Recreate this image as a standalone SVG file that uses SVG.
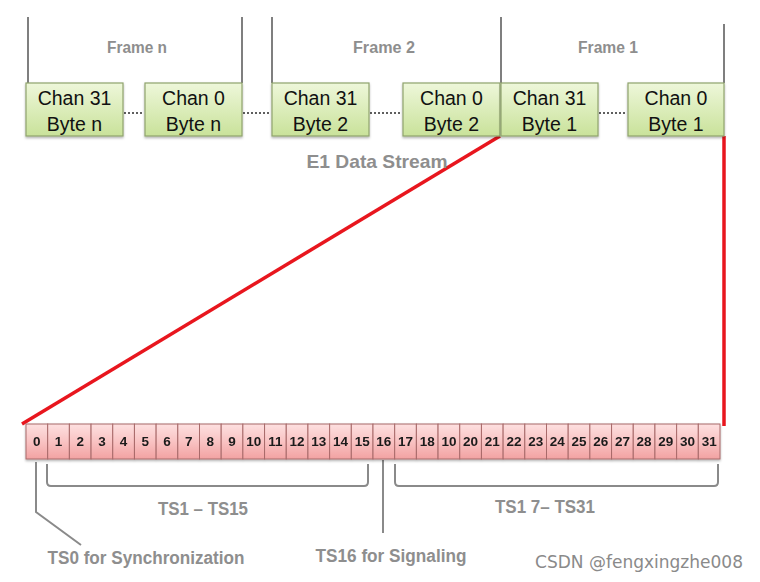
<svg xmlns="http://www.w3.org/2000/svg" width="760" height="582" viewBox="0 0 760 582">
<defs>
<linearGradient id="gGreen" x1="0" y1="0" x2="0" y2="1">
<stop offset="0" stop-color="#eef7da"/>
<stop offset="1" stop-color="#c9e29a"/>
</linearGradient>
<linearGradient id="gPink" x1="0" y1="0" x2="0" y2="1">
<stop offset="0" stop-color="#fde0e0"/>
<stop offset="0.5" stop-color="#f9c3c3"/>
<stop offset="1" stop-color="#f2a2a2"/>
</linearGradient>
<filter id="sh" x="-10%" y="-10%" width="130%" height="140%">
<feDropShadow dx="0" dy="1.5" stdDeviation="1.2" flood-color="#000" flood-opacity="0.3"/>
</filter>
</defs>
<style>
.box{fill:url(#gGreen);stroke:#8fa36d;stroke-width:1.2;filter:url(#sh)}
.cell{fill:url(#gPink);stroke:#a86a6a;stroke-width:1}
.bt{font-family:"Liberation Sans",Arial,sans-serif;font-size:19.5px;fill:#111;text-anchor:middle}
.ct{font-family:"Liberation Sans",Arial,sans-serif;font-size:13.5px;font-weight:bold;fill:#1a1a1a;text-anchor:middle}
.gl{font-family:"Liberation Sans",Arial,sans-serif;font-weight:bold;fill:#8e8e8e;text-anchor:middle}
.fl{stroke:#7f7f7f;stroke-width:2;fill:none}
.dot{stroke:#5f5f5f;stroke-width:2;stroke-dasharray:2 2;fill:none}
.red{stroke:#e8161e;stroke-width:3.5;fill:none}
.br{stroke:#8a8a8a;stroke-width:2;fill:none}
</style>
<rect width="760" height="582" fill="#ffffff"/>

<g id="connectors">
<path class="fl" d="M28,17V83 M242,17V83 M272,17V83 M501,17V83 M724,24V83"/>
<path class="dot" d="M124,113H144 M243,113H271 M370,113H402 M599,113H627"/>
<path class="br" d="M47,464V482Q47,486 51,486H364Q368,486 368,482V464"/>
<path class="br" d="M395,464V482Q395,486 399,486H714Q718,486 718,482V464"/>
<path class="br" d="M36,462V512L81,545"/>
<path class="br" d="M383,460V533"/>
<path class="red" d="M500,136L22,424"/>
<path class="red" d="M724,136V426"/>
</g>

<g id="labels">
<text class="gl" x="137" y="53" font-size="16" textLength="60" lengthAdjust="spacingAndGlyphs">Frame n</text>
<text class="gl" x="384" y="53" font-size="16" textLength="62" lengthAdjust="spacingAndGlyphs">Frame 2</text>
<text class="gl" x="608" y="53" font-size="16" textLength="60" lengthAdjust="spacingAndGlyphs">Frame 1</text>
<text class="gl" x="377" y="168" font-size="19" textLength="141" lengthAdjust="spacingAndGlyphs">E1 Data Stream</text>
<text class="gl" x="203" y="515" font-size="18" textLength="90" lengthAdjust="spacingAndGlyphs">TS1 – TS15</text>
<text class="gl" x="545" y="513" font-size="18" textLength="100" lengthAdjust="spacingAndGlyphs">TS1 7– TS31</text>
<text class="gl" x="146" y="564" font-size="18" textLength="197" lengthAdjust="spacingAndGlyphs">TS0 for Synchronization</text>
<text class="gl" x="391" y="562" font-size="18" textLength="151" lengthAdjust="spacingAndGlyphs">TS16 for Signaling</text>
<text x="639" y="568" font-family="'DejaVu Sans','Liberation Sans',sans-serif" font-size="17" fill="#8a8a8a" text-anchor="middle" textLength="208" lengthAdjust="spacingAndGlyphs">CSDN @fengxingzhe008</text>
</g>

<g id="frame-n-chan31"><rect class="box" x="26" y="83" width="97" height="53"/><text class="bt" x="74.5" y="105">Chan 31</text><text class="bt" x="74.5" y="131">Byte n</text></g>
<g id="frame-n-chan0"><rect class="box" x="145" y="83" width="97" height="53"/><text class="bt" x="193.5" y="105">Chan 0</text><text class="bt" x="193.5" y="131">Byte n</text></g>
<g id="frame-2-chan31"><rect class="box" x="272" y="83" width="97" height="53"/><text class="bt" x="320.5" y="105">Chan 31</text><text class="bt" x="320.5" y="131">Byte 2</text></g>
<g id="frame-2-chan0"><rect class="box" x="403" y="83" width="97" height="53"/><text class="bt" x="451.5" y="105">Chan 0</text><text class="bt" x="451.5" y="131">Byte 2</text></g>
<g id="frame-1-chan31"><rect class="box" x="501" y="83" width="97" height="53"/><text class="bt" x="549.5" y="105">Chan 31</text><text class="bt" x="549.5" y="131">Byte 1</text></g>
<g id="frame-1-chan0"><rect class="box" x="628" y="83" width="96" height="53"/><text class="bt" x="676" y="105">Chan 0</text><text class="bt" x="676" y="131">Byte 1</text></g>

<g id="timeslots" filter="url(#sh)">
<g id="ts0"><rect class="cell" x="26" y="424" width="21.69" height="35"/><text class="ct" x="36.84" y="446">0</text></g>
<g id="ts1"><rect class="cell" x="47.69" y="424" width="21.69" height="35"/><text class="ct" x="58.53" y="446">1</text></g>
<g id="ts2"><rect class="cell" x="69.38" y="424" width="21.69" height="35"/><text class="ct" x="80.22" y="446">2</text></g>
<g id="ts3"><rect class="cell" x="91.06" y="424" width="21.69" height="35"/><text class="ct" x="101.9" y="446">3</text></g>
<g id="ts4"><rect class="cell" x="112.75" y="424" width="21.69" height="35"/><text class="ct" x="123.59" y="446">4</text></g>
<g id="ts5"><rect class="cell" x="134.44" y="424" width="21.69" height="35"/><text class="ct" x="145.28" y="446">5</text></g>
<g id="ts6"><rect class="cell" x="156.13" y="424" width="21.69" height="35"/><text class="ct" x="166.97" y="446">6</text></g>
<g id="ts7"><rect class="cell" x="177.81" y="424" width="21.69" height="35"/><text class="ct" x="188.65" y="446">7</text></g>
<g id="ts8"><rect class="cell" x="199.5" y="424" width="21.69" height="35"/><text class="ct" x="210.34" y="446">8</text></g>
<g id="ts9"><rect class="cell" x="221.19" y="424" width="21.69" height="35"/><text class="ct" x="232.03" y="446">9</text></g>
<g id="ts10"><rect class="cell" x="242.88" y="424" width="21.69" height="35"/><text class="ct" x="253.72" y="446">10</text></g>
<g id="ts11"><rect class="cell" x="264.56" y="424" width="21.69" height="35"/><text class="ct" x="275.4" y="446">11</text></g>
<g id="ts12"><rect class="cell" x="286.25" y="424" width="21.69" height="35"/><text class="ct" x="297.09" y="446">12</text></g>
<g id="ts13"><rect class="cell" x="307.94" y="424" width="21.69" height="35"/><text class="ct" x="318.78" y="446">13</text></g>
<g id="ts14"><rect class="cell" x="329.63" y="424" width="21.69" height="35"/><text class="ct" x="340.47" y="446">14</text></g>
<g id="ts15"><rect class="cell" x="351.31" y="424" width="21.69" height="35"/><text class="ct" x="362.15" y="446">15</text></g>
<g id="ts16"><rect class="cell" x="373" y="424" width="21.69" height="35"/><text class="ct" x="383.84" y="446">16</text></g>
<g id="ts17"><rect class="cell" x="394.69" y="424" width="21.69" height="35"/><text class="ct" x="405.53" y="446">17</text></g>
<g id="ts18"><rect class="cell" x="416.38" y="424" width="21.69" height="35"/><text class="ct" x="427.22" y="446">18</text></g>
<g id="ts19"><rect class="cell" x="438.06" y="424" width="21.69" height="35"/><text class="ct" x="448.9" y="446">10</text></g>
<g id="ts20"><rect class="cell" x="459.75" y="424" width="21.69" height="35"/><text class="ct" x="470.59" y="446">20</text></g>
<g id="ts21"><rect class="cell" x="481.44" y="424" width="21.69" height="35"/><text class="ct" x="492.28" y="446">21</text></g>
<g id="ts22"><rect class="cell" x="503.13" y="424" width="21.69" height="35"/><text class="ct" x="513.97" y="446">22</text></g>
<g id="ts23"><rect class="cell" x="524.81" y="424" width="21.69" height="35"/><text class="ct" x="535.65" y="446">23</text></g>
<g id="ts24"><rect class="cell" x="546.5" y="424" width="21.69" height="35"/><text class="ct" x="557.34" y="446">24</text></g>
<g id="ts25"><rect class="cell" x="568.19" y="424" width="21.69" height="35"/><text class="ct" x="579.03" y="446">25</text></g>
<g id="ts26"><rect class="cell" x="589.88" y="424" width="21.69" height="35"/><text class="ct" x="600.72" y="446">26</text></g>
<g id="ts27"><rect class="cell" x="611.56" y="424" width="21.69" height="35"/><text class="ct" x="622.4" y="446">27</text></g>
<g id="ts28"><rect class="cell" x="633.25" y="424" width="21.69" height="35"/><text class="ct" x="644.09" y="446">28</text></g>
<g id="ts29"><rect class="cell" x="654.94" y="424" width="21.69" height="35"/><text class="ct" x="665.78" y="446">29</text></g>
<g id="ts30"><rect class="cell" x="676.63" y="424" width="21.69" height="35"/><text class="ct" x="687.47" y="446">30</text></g>
<g id="ts31"><rect class="cell" x="698.31" y="424" width="21.69" height="35"/><text class="ct" x="709.15" y="446">31</text></g>
</g>
</svg>
